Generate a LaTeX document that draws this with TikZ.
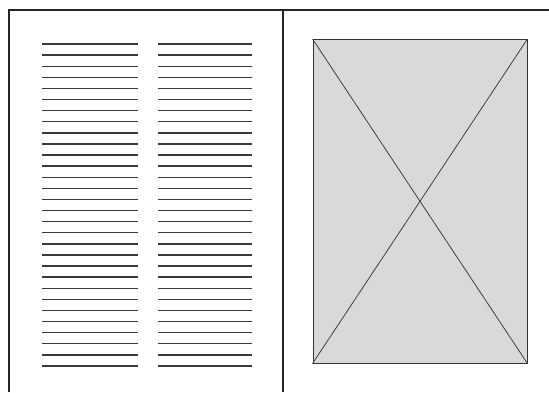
\documentclass[tikz,border=0pt]{standalone}
\definecolor{pagegray}{HTML}{D9D9D9}
\definecolor{inkline}{HTML}{3A3A3A}
\tikzset{
  frame/.style={draw=black!85, line width=1.1pt},
  textline/.style={draw=inkline, line width=1.4pt},
  picbox/.style={draw=black!80, fill=pagegray, line width=0.9pt, inner sep=0pt, minimum width=214pt, minimum height=323.5pt},
  diag/.style={draw=black!75, line width=0.8pt}
}
\begin{document}
\begin{tikzpicture}[x=1pt,y=-1pt]
\useasboundingbox (0,0) rectangle (549,392);
% page frame
\coordinate (tl) at (9,10);
\coordinate (tr) at (549,10);
\coordinate (bl) at (9,392);
\coordinate (mt) at (283,10);
\coordinate (mb) at (283,392);
\draw[frame] (bl) -- (tl) -- (tr);
\draw[frame] (mt) -- (mb);
% text columns
\foreach \i in {0,...,29}{
  \pgfmathsetmacro{\yy}{44+\i*11.1}
  \draw[textline] (42,\yy) -- (138,\yy);
  \draw[textline] (158,\yy) -- (252,\yy);
}
% picture placeholder
\node[picbox] (pic) at (420,201.25) {};
\draw[diag] (pic.north west) -- (pic.south east);
\draw[diag] (pic.north east) -- (pic.south west);
\end{tikzpicture}
\end{document}
